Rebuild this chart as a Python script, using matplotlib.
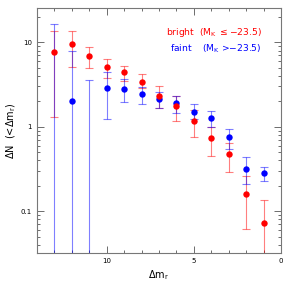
import matplotlib.pyplot as plt
import numpy as np

# Data
dm = np.array([13, 12, 11, 10, 9, 8, 7, 6, 5, 4, 3, 2, 1])

red_y = np.array([7.6, 9.5, 6.9, 5.1, 4.4, 3.4, 2.3, 1.75, 1.17, 0.74, 0.47, 0.16, 0.073])
red_hi = np.array([13.7, 13.7, 8.9, 6.3, 5.3, 4.2, 3.05, 2.3, 1.6, 1.0, 0.65, 0.26, 0.134])
red_lo = np.array([1.29, 5.05, 4.9, 3.8, 3.5, 2.85, 1.69, 1.17, 0.76, 0.45, 0.29, 0.062, 0.001])

blue_y = np.array([np.nan, 2.0, np.nan, 2.85, 2.8, 2.43, 2.12, 1.89, 1.5, 1.26, 0.76, 0.32, 0.286])
blue_hi = np.array([16.4, 7.8, 3.6, 4.5, 3.65, 2.97, 2.59, 2.3, 1.84, 1.54, 0.93, 0.44, 0.337])
blue_lo = np.array([0.001, 0.001, 0.001, 1.23, 1.99, 1.85, 1.66, 1.45, 1.23, 1.0, 0.54, 0.21, 0.227])

fig = plt.figure(figsize=(2.91, 2.91), dpi=100)
ax = fig.add_axes([37 / 291, 1 - 253 / 291, 244 / 291, 245 / 291])

# error bars (drawn around a centre between the limits so the point can be absent)
for lo, hi, col in [(red_lo, red_hi, "red"), (blue_lo, blue_hi, "blue")]:
    c = np.sqrt(lo * hi)
    ax.errorbar(dm, c, yerr=[c - lo, hi - c], fmt="none", ecolor=col, alpha=0.5,
                elinewidth=0.8, capsize=3, capthick=0.8)

ax.plot(dm, blue_y, "o", color="blue", ms=4.6, mec="none")
ax.plot(dm, red_y, "o", color="red", ms=4.6, mec="none")

ax.set_yscale("log")
ax.set_xlim(14, 0)
ax.set_ylim(0.032, 25.5)
ax.set_xticks([10, 5, 0])
ax.set_xticklabels(["10", "5", "0"])
ax.set_xticks(np.arange(0, 15, 1), minor=True)
ax.set_yticks([0.1, 1, 10])
ax.set_yticklabels(["0.1", "1", "10"])

ax.tick_params(which="both", direction="in", top=True, right=True, colors="#555555",
               labelcolor="black", labelsize=5, width=0.6)
ax.tick_params(which="major", length=5)
ax.tick_params(which="minor", length=2.5)
for s in ax.spines.values():
    s.set_color("#777777")
    s.set_linewidth(0.8)

ax.set_xlabel(r"$\Delta$m$_{\rm r}$", fontsize=7, labelpad=3)
ax.set_ylabel(r"$\Delta$N  (<$\Delta$m$_{\rm r}$)", fontsize=7, labelpad=2)

ax.text(0.922, 0.902, r"bright  (M$_{\rm K}$ $\leq$$-$23.5)", color="red", fontsize=6.6,
        ha="right", va="center", transform=ax.transAxes)
ax.text(0.922, 0.833, r"faint    (M$_{\rm K}$ >$-$23.5)", color="blue", fontsize=6.6,
        ha="right", va="center", transform=ax.transAxes)

plt.savefig("out.png", dpi=100)
